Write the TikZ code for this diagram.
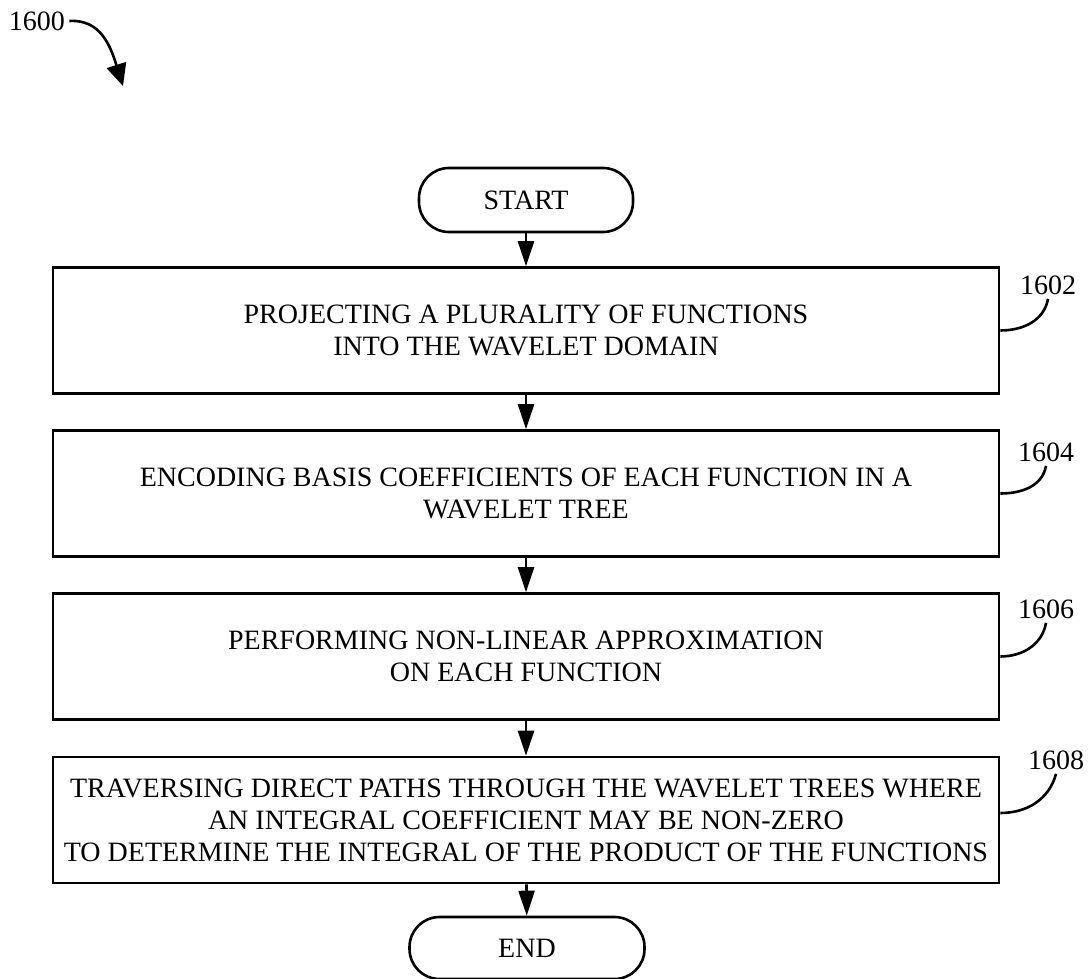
\documentclass[tikz,border=0pt]{standalone}
\usepackage{fontspec}
\setmainfont{Liberation Serif}
\usetikzlibrary{arrows.meta}

\begin{document}
\begin{tikzpicture}[x=0.5pt,y=-0.5pt,
    font=\fontsize{14}{16}\selectfont,
    terminal/.style={draw,line width=1.3pt,rounded corners=15pt,minimum height=32pt,inner sep=0pt},
    stepbox/.style={draw,line width=1.3pt,minimum width=473pt,minimum height=63pt,align=center,inner sep=0pt},
    ref/.style={inner sep=2pt},
    flow/.style={line width=1.3pt,-{Triangle[length=12.5pt,width=8pt]}},
    leader/.style={line width=1.3pt}]
      \useasboundingbox (0,0) rectangle (1088,979);
      \draw
        (526,200) node[terminal,minimum width=107pt] (start){START}
        (526,330.5) node[stepbox] (b1602){PROJECTING A PLURALITY OF FUNCTIONS\\INTO THE WAVELET DOMAIN}
        (526,493.5) node[stepbox] (b1604){ENCODING BASIS COEFFICIENTS OF EACH FUNCTION IN A\\WAVELET TREE}
        (526,656.5) node[stepbox] (b1606){PERFORMING NON-LINEAR APPROXIMATION\\ON EACH FUNCTION}
        (526,820) node[stepbox] (b1608){TRAVERSING DIRECT PATHS THROUGH THE WAVELET TREES WHERE\\AN INTEGRAL COEFFICIENT MAY BE NON-ZERO\\TO DETERMINE THE INTEGRAL OF THE PRODUCT OF THE FUNCTIONS}
        (527,948) node[terminal,minimum width=117.5pt,minimum height=31pt] (end){END};
      \draw
        (37,21) node[ref] (l1600){1600}
        (1048,285) node[ref] (l1602){1602}
        (1046,452) node[ref] (l1604){1604}
        (1046,609) node[ref] (l1606){1606}
        (1056,760) node[ref] (l1608){1608};
      \coordinate (tip1600) at (123,86);
      \begin{scope}[flow]
        \draw (start) to (b1602);
        \draw (b1602) to (b1604);
        \draw (b1604) to (b1606);
        \draw (b1606) to (b1608);
        \draw (b1608) to (end);
      \end{scope}
      \begin{scope}[leader]
        \draw (l1602.south) to[out=-100,in=0] (b1602.east);
        \draw (l1604.south) to[out=-100,in=0] (b1604.east);
        \draw (l1606.south) to[out=-100,in=0] (b1606.east);
        \draw (l1608.south) to[out=-105,in=0] ([yshift=3.5pt]b1608.east);
        \draw[-{Triangle[length=11pt,width=10pt]}] (l1600.east) .. controls +(32,-2) and +(-12,-38) .. (tip1600);
      \end{scope}
    \end{tikzpicture}
\end{document}
